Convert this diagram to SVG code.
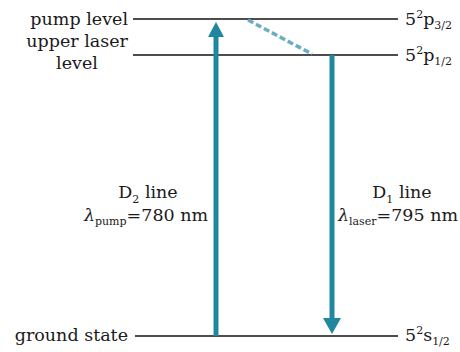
<svg xmlns="http://www.w3.org/2000/svg" width="460" height="352" viewBox="0 0 460 352">
<style>
.lvl{stroke:#4d4d4d;stroke-width:2;fill:none}
.t{font-family:"DejaVu Serif","Liberation Serif",serif;font-size:17.5px;fill:#1a1a1a}
.s{font-size:11px}
.arr{stroke:#1f87a0;stroke-width:5;fill:none}
.head{fill:#1f87a0}
</style>
<rect width="460" height="352" fill="#fff"/>
<g id="level-pump">
<line class="lvl" x1="133" y1="19" x2="398" y2="19"/>
<text class="t" x="128" y="25" text-anchor="end">pump level</text>
<text class="t" x="405" y="25">5<tspan class="s" dy="-7">2</tspan><tspan dy="7">p</tspan><tspan class="s" dy="4">3/2</tspan></text>
</g>
<g id="level-upper">
<line class="lvl" x1="133" y1="55" x2="398" y2="55"/>
<text class="t" x="128" y="47" text-anchor="end">upper laser</text>
<text class="t" x="77" y="69" text-anchor="middle">level</text>
<text class="t" x="405" y="61">5<tspan class="s" dy="-7">2</tspan><tspan dy="7">p</tspan><tspan class="s" dy="4">1/2</tspan></text>
</g>
<g id="level-ground">
<line class="lvl" x1="135" y1="336" x2="398" y2="336"/>
<text class="t" x="128" y="341" text-anchor="end">ground state</text>
<text class="t" x="405" y="341">5<tspan class="s" dy="-7">2</tspan><tspan dy="7">s</tspan><tspan class="s" dy="4">1/2</tspan></text>
</g>
<g id="connectors">
<line class="arr" x1="216" y1="336" x2="216" y2="35"/>
<polygon class="head" points="216,22 208,37 224,37"/>
<line class="arr" x1="332" y1="55" x2="332" y2="320"/>
<polygon class="head" points="332,334 323,318 341,318"/>
<line x1="248" y1="20" x2="312" y2="54" stroke="#6aaec0" stroke-width="3.5" stroke-dasharray="6,3"/>
</g>
<g id="label-d2">
<text class="t" x="148" y="198" text-anchor="middle">D<tspan class="s" dy="5">2</tspan><tspan dy="-5"> line</tspan></text>
<text class="t" x="146" y="221" text-anchor="middle"><tspan font-style="italic">λ</tspan><tspan class="s" dy="4">pump</tspan><tspan dy="-4">=780 nm</tspan></text>
</g>
<g id="label-d1">
<text class="t" x="402" y="198" text-anchor="middle">D<tspan class="s" dy="5">1</tspan><tspan dy="-5"> line</tspan></text>
<text class="t" x="398" y="221" text-anchor="middle"><tspan font-style="italic">λ</tspan><tspan class="s" dy="4">laser</tspan><tspan dy="-4">=795 nm</tspan></text>
</g>
</svg>
